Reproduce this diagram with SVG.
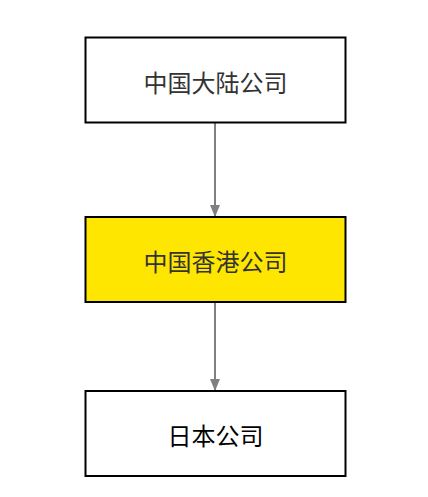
<svg xmlns="http://www.w3.org/2000/svg" width="428" height="497" viewBox="0 0 428 497">
<style>
.box{stroke:#000;stroke-width:2}
.lbl{font-family:"Noto Sans CJK SC","Noto Sans",sans-serif;font-size:24px;text-anchor:middle;dominant-baseline:central}
.edge{stroke:#808080;stroke-width:2;fill:none}
</style>
<defs>
<marker id="arr" viewBox="0 0 12 10" refX="11" refY="5" markerWidth="6" markerHeight="5" orient="auto" markerUnits="strokeWidth">
<path d="M0,0 L12,5 L0,10 z" fill="#808080"/>
</marker>
</defs>
<rect width="428" height="497" fill="#fff"/>
<g id="edges">
<line class="edge" x1="215" y1="123" x2="215" y2="216" marker-end="url(#arr)"/>
<line class="edge" x1="215" y1="302" x2="215" y2="390" marker-end="url(#arr)"/>
</g>
<g id="node1">
<rect class="box" x="85.5" y="37.5" width="260" height="85" fill="#fff"/>
<text class="lbl" x="215.5" y="81" fill="#333">中国大陆公司</text>
</g>
<g id="node2">
<rect class="box" x="85.5" y="217" width="260" height="85" fill="#ffe600"/>
<text class="lbl" x="215.5" y="260.5" fill="#333">中国香港公司</text>
</g>
<g id="node3">
<rect class="box" x="85.5" y="391" width="260" height="85" fill="#fff"/>
<text class="lbl" x="215.5" y="434.5" fill="#000">日本公司</text>
</g>
</svg>
